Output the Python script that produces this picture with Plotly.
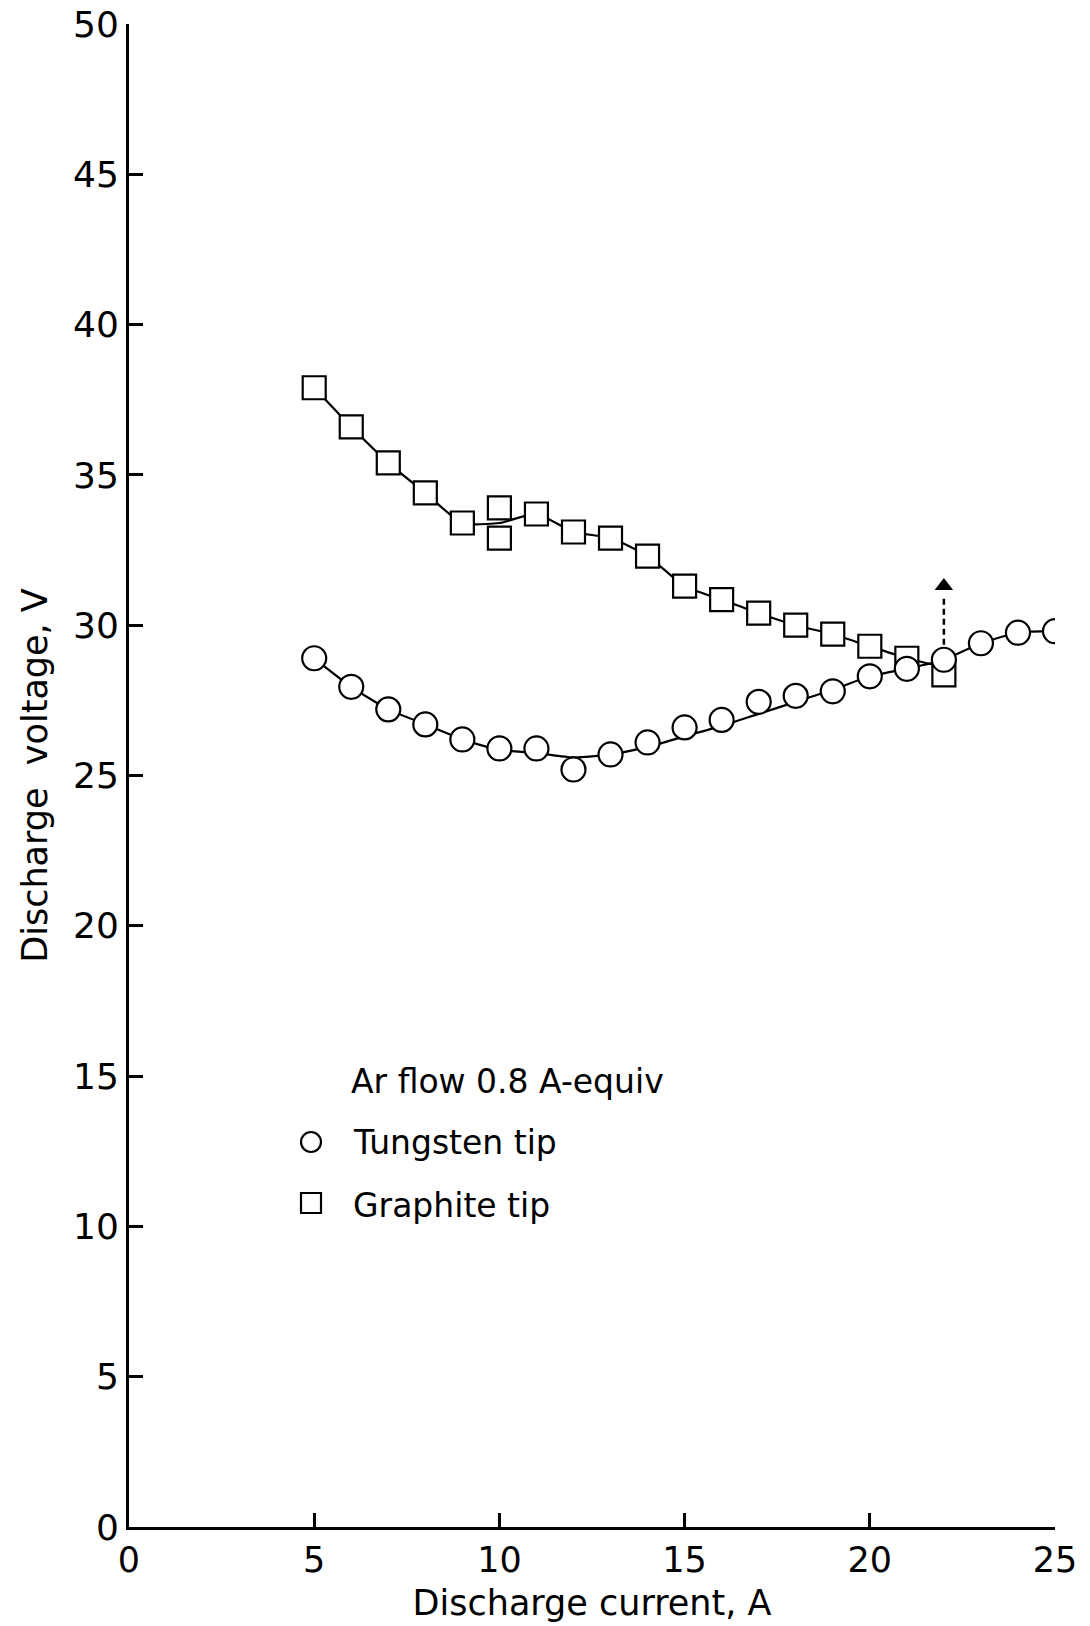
import plotly.graph_objects as go

# Data
current = [5, 6, 7, 8, 9, 10, 11, 12, 13, 14, 15, 16, 17, 18, 19, 20, 21, 22, 23, 24, 25]
tungsten_v = [28.9, 27.95, 27.2, 26.7, 26.2, 25.9, 25.9, 25.2, 25.7, 26.1, 26.6,
              26.85, 27.45, 27.65, 27.8, 28.3, 28.55, 28.85, 29.4, 29.75, 29.8]
tungsten_curve = [28.9, 27.95, 27.2, 26.7, 26.2, 25.85, 25.75, 25.6, 25.7, 25.95, 26.3,
                  26.65, 27.05, 27.45, 27.85, 28.3, 28.55, 28.85, 29.4, 29.75, 29.8]

graphite_i = [5, 6, 7, 8, 9, 10, 10, 11, 12, 13, 14, 15, 16, 17, 18, 19, 20, 21, 22]
graphite_v = [37.9, 36.6, 35.4, 34.4, 33.4, 33.9, 32.9, 33.7, 33.1, 32.9, 32.3, 31.3,
              30.85, 30.4, 30.0, 29.7, 29.3, 28.9, 28.35]
graphite_curve_i = [5, 6, 7, 8, 9, 10, 11, 12, 13, 14, 15, 16, 17, 18, 19, 20, 21, 22]
graphite_curve_v = [37.9, 36.6, 35.4, 34.4, 33.4, 33.4, 33.7, 33.1, 32.9, 32.3, 31.3,
                    30.85, 30.4, 30.0, 29.7, 29.3, 28.9, 28.6]

arrow_i = [22, 22]
arrow_v = [29.35, 30.95]
arrow_head_v = [31.3]

x_ticks = [0, 5, 10, 15, 20, 25]
y_ticks = [0, 5, 10, 15, 20, 25, 30, 35, 40, 45, 50]

legend_title = "Ar flow 0.8 A-equiv"
legend_names = ["Tungsten tip", "Graphite tip"]

FONT = "DejaVu Sans"
BLACK = "#000000"

W, H = 1090, 1626
ML, MR, MT, MB = 129, 35, 24, 99
PW = W - ML - MR
PH = H - MT - MB
PLOT_LEFT = 129
PLOT_BOTTOM = 1527


def px_x(p):
    return (p - PLOT_LEFT) / PW


def px_y(p):
    return (PLOT_BOTTOM - p) / PH


fig = go.Figure()

# fitted curves
fig.add_trace(go.Scatter(x=graphite_curve_i, y=graphite_curve_v, mode="lines",
                         line=dict(color=BLACK, width=2.2, shape="spline", smoothing=0.6),
                         showlegend=False, hoverinfo="skip"))
fig.add_trace(go.Scatter(x=current, y=tungsten_curve, mode="lines",
                         line=dict(color=BLACK, width=2.2, shape="spline", smoothing=0.6),
                         showlegend=False, hoverinfo="skip"))

# dashed arrow
fig.add_trace(go.Scatter(x=arrow_i, y=arrow_v, mode="lines",
                         line=dict(color=BLACK, width=2.5, dash="6px,4px"),
                         showlegend=False, hoverinfo="skip"))
fig.add_trace(go.Scatter(x=[arrow_i[0]], y=arrow_head_v, mode="markers",
                         marker=dict(symbol="triangle-up", size=16, color=BLACK,
                                     line=dict(width=0)),
                         showlegend=False, hoverinfo="skip"))

# markers
fig.add_trace(go.Scatter(x=graphite_i, y=graphite_v, mode="markers", name=legend_names[1],
                         marker=dict(symbol="square", size=23, color="white",
                                     line=dict(color=BLACK, width=2.2)),
                         showlegend=False))
fig.add_trace(go.Scatter(x=current, y=tungsten_v, mode="markers", name=legend_names[0],
                         marker=dict(symbol="circle", size=24, color="white",
                                     line=dict(color=BLACK, width=2.2)),
                         showlegend=False))

# legend (manual)
LEG_FONT = dict(family=FONT, size=33, color=BLACK)
annotations = [
    dict(text=legend_title, x=px_x(349), y=px_y(1081), xref="paper", yref="paper",
         showarrow=False, xanchor="left", yanchor="middle", font=LEG_FONT),
    dict(text=legend_names[0], x=px_x(351), y=px_y(1142), xref="paper", yref="paper",
         showarrow=False, xanchor="left", yanchor="middle", font=LEG_FONT),
    dict(text=legend_names[1], x=px_x(351), y=px_y(1205), xref="paper", yref="paper",
         showarrow=False, xanchor="left", yanchor="middle", font=LEG_FONT),
]
shapes = [
    dict(type="circle", xref="paper", yref="paper", xsizemode="pixel", ysizemode="pixel",
         xanchor=px_x(311), yanchor=px_y(1142), x0=-10, x1=10, y0=-10, y1=10,
         line=dict(color=BLACK, width=2.2), fillcolor="white"),
    dict(type="rect", xref="paper", yref="paper", xsizemode="pixel", ysizemode="pixel",
         xanchor=px_x(311), yanchor=px_y(1203), x0=-10, x1=10, y0=-10, y1=10,
         line=dict(color=BLACK, width=2.2), fillcolor="white"),
]

fig.update_layout(
    template="none",
    width=W, height=H,
    margin=dict(l=ML, r=MR, t=MT, b=MB, autoexpand=False),
    paper_bgcolor="white", plot_bgcolor="white",
    font=dict(family=FONT, color=BLACK, size=30),
    showlegend=False,
    annotations=annotations,
    shapes=shapes,
)

fig.update_xaxes(range=[0, 25], tickvals=x_ticks, ticktext=[str(v) for v in x_ticks],
                 automargin=False, ticklabeloverflow="allow",
                 showgrid=False, zeroline=False, showline=True, linecolor=BLACK, linewidth=3,
                 ticks="inside", ticklen=14, tickwidth=2.5, tickcolor=BLACK,
                 tickfont=dict(family=FONT, size=35),
                 title=dict(text="Discharge current, A", font=dict(family=FONT, size=35),
                            standoff=12))
fig.update_yaxes(range=[0, 50], tickvals=y_ticks, ticktext=[str(v) for v in y_ticks],
                 automargin=False, ticklabeloverflow="allow",
                 showgrid=False, zeroline=False, showline=True, linecolor=BLACK, linewidth=3,
                 ticks="inside", ticklen=14, tickwidth=2.5, tickcolor=BLACK,
                 tickfont=dict(family=FONT, size=36),
                 title=dict(text="Discharge\u00a0\u00a0voltage,\u00a0V",
                            font=dict(family=FONT, size=35), standoff=15))

fig.write_html("out.html",
               config={"displayModeBar": False},
               post_script="document.body.style.margin='0px';document.body.style.overflow='hidden';")
